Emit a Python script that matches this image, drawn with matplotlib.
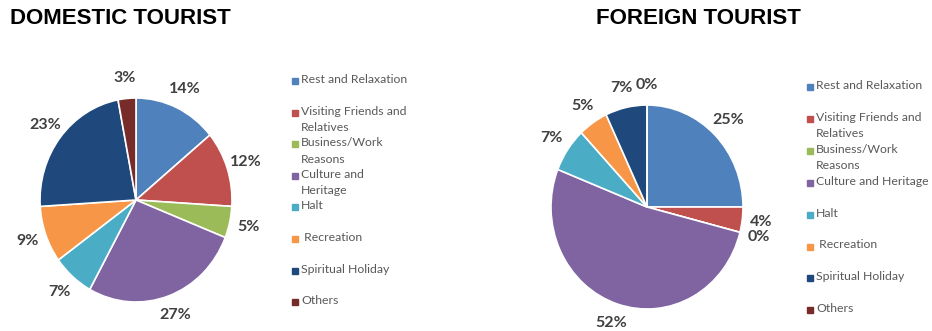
import matplotlib.pyplot as plt
from matplotlib.patches import Rectangle

categories = ["Rest and Relaxation", "Visiting Friends and Relatives",
              "Business/Work Reasons", "Culture and Heritage", "Halt",
              " Recreation", "Spiritual Holiday", "Others"]
domestic_pct = [14, 12, 5, 27, 7, 9, 23, 3]
foreign_pct = [25, 4, 0, 52, 7, 5, 7, 0]

domestic_legend = ["Rest and Relaxation", "Visiting Friends and\nRelatives",
                   "Business/Work\nReasons", "Culture and\nHeritage", "Halt",
                   " Recreation", "Spiritual Holiday", "Others"]
foreign_legend = ["Rest and Relaxation", "Visiting Friends and\nRelatives",
                  "Business/Work\nReasons", "Culture and Heritage", "Halt",
                  " Recreation", "Spiritual Holiday", "Others"]

colors = ["#4F81BD", "#C0504D", "#9BBB59", "#8064A2", "#4BACC6",
          "#F79646", "#1F497D", "#772C2A"]

W, H = 932, 331
fig = plt.figure(figsize=(W / 100, H / 100), dpi=100)


def draw_pie(cx, cy, rx, ry, values, title, tx, ha):
    ax = fig.add_axes([(cx - rx) / W, (H - cy - ry) / H, 2 * rx / W, 2 * ry / H])
    wedges, texts, autotexts = ax.pie(
        values, colors=colors, startangle=90, counterclock=False,
        autopct=lambda p: f"{p:.0f}%", pctdistance=1.2,
        wedgeprops=dict(edgecolor="white", linewidth=1.2),
        textprops=dict(fontsize=11.5, fontweight="bold", color="#404040",
                       family="Lato"))
    ax.set_xlim(-1, 1)
    ax.set_ylim(-1, 1)
    ax.set_aspect("auto")
    fig.text(tx / W, 1 - 18 / H, title, ha=ha, va="center", fontsize=16,
             fontweight="bold", family="Liberation Sans", color="black")
    return autotexts


def draw_legend(x, y0, step, labels):
    for i, (lab, c) in enumerate(zip(labels, colors)):
        y = y0 + i * step
        fig.patches.append(Rectangle(((x - 3) / W, 1 - (y + 3) / H), 6 / W, 6 / H,
                                     transform=fig.transFigure, color=c))
        fig.text((x + 6) / W, 1 - (y - 7) / H, lab, ha="left", va="top",
                 fontsize=8.8, color="#595959", family="Lato", linespacing=1.6)


dom = draw_pie(136, 200, 96, 102, domestic_pct, "DOMESTIC TOURIST", 10, "left")
fgn = draw_pie(647, 207, 96, 102, foreign_pct, "FOREIGN TOURIST", 698, "center")

draw_legend(295, 81, 31.6, domestic_legend)
draw_legend(810, 87, 31.9, foreign_legend)

fig.savefig("out.png", dpi=100, facecolor="white")
